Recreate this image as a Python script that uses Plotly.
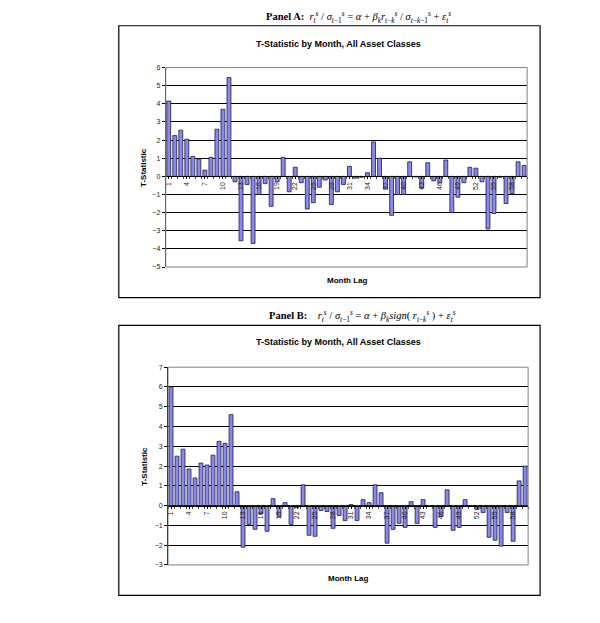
import plotly.graph_objects as go

lags = list(range(1, 61))
tick_lags = list(range(1, 61, 3))

panel_a = [4.15, 2.25, 2.55, 2.05, 1.1, 0.95, 0.35, 1.05, 2.6, 3.7,
           5.45, -0.3, -3.55, -0.45, -3.7, -1.0, -0.4, -1.65, -0.3, 1.05,
           -0.85, 0.5, -0.35, -1.8, -1.45, -0.6, -0.2, -1.55, -0.85, -0.45,
           0.55, -0.1, -0.05, 0.2, 1.9, 1.0, -0.7, -2.15, -1.0, -1.0,
           0.8, -0.03, -0.65, 0.75, -0.25, -0.35, 0.9, -2.0, -1.15, -0.35,
           0.5, 0.45, -0.3, -2.9, -2.05, -0.05, -1.5, -0.95, 0.8, 0.6]

panel_b = [6.0, 2.5, 2.85, 1.85, 1.4, 2.15, 2.05, 2.55, 3.25, 3.15,
           4.6, 0.7, -2.1, -0.95, -1.2, -0.4, -1.3, 0.35, -0.55, 0.15,
           -0.95, -0.1, 1.05, -1.5, -1.55, -0.25, -0.3, -1.15, -0.5, -0.75,
           0.05, -0.75, 0.3, 0.15, 1.05, 0.65, -1.9, -1.2, -0.9, -1.1,
           0.2, -0.9, 0.3, -0.03, -1.1, -0.55, 0.8, -1.25, -1.1, 0.3,
           -0.03, -0.2, -0.35, -1.6, -1.75, -2.05, -0.35, -1.8, 1.25, 2.0]

yrange_a = [-5, 6]
yrange_b = [-3, 7]

W, H = 600, 623


def px(x):
    return x / W


def py(y):
    return 1 - y / H


# plot areas (pixels)
A = dict(x0=165, x1=527, y0=64.3, y1=266)
B = dict(x0=167.3, x1=528, y0=367.3, y1=567.3)

zero_a = py(A["y0"] + (yrange_a[1] - 0) / (yrange_a[1] - yrange_a[0]) * (A["y1"] - A["y0"]))
zero_b = py(B["y0"] + (yrange_b[1] - 0) / (yrange_b[1] - yrange_b[0]) * (B["y1"] - B["y0"]))

bar_color = "#8a8ae6"
bar_line = "#1a1a4a"

fig = go.Figure()
fig.add_trace(go.Bar(x=lags, y=panel_a, xaxis="x", yaxis="y",
                     marker=dict(color=bar_color, line=dict(color=bar_line, width=0.8)),
                     showlegend=False))
fig.add_trace(go.Bar(x=lags, y=panel_b, xaxis="x2", yaxis="y2",
                     marker=dict(color=bar_color, line=dict(color=bar_line, width=0.8)),
                     showlegend=False))

tickfont = dict(family="Arial, Liberation Sans, sans-serif", size=7, color="#222")

xcommon = dict(type="linear", range=[0.5, 60.5], tickmode="array", tickvals=tick_lags,
               ticktext=[str(t) for t in tick_lags], tickangle=-90, tickfont=tickfont,
               showgrid=False, zeroline=False, showline=True, linecolor="black", linewidth=1,
               ticks="outside", ticklen=2, tickcolor="black",
               minor=dict(ticks="outside", tick0=0.5, dtick=1, ticklen=2, tickcolor="#444"),
               anchor="free", fixedrange=True)
ycommon = dict(dtick=1, showgrid=True, gridcolor="black", gridwidth=1, zeroline=False,
               showline=True, linecolor="black", linewidth=1, ticks="outside", ticklen=3,
               tickcolor="black", tickfont=tickfont, fixedrange=True)

fig.update_layout(
    width=W, height=H, margin=dict(l=0, r=0, t=0, b=0),
    paper_bgcolor="white", plot_bgcolor="white", bargap=0.35,
    xaxis=dict(domain=[px(A["x0"]), px(A["x1"])], position=zero_a, **xcommon),
    yaxis=dict(domain=[py(A["y1"]), py(A["y0"])], range=yrange_a, anchor="x", **ycommon),
    xaxis2=dict(domain=[px(B["x0"]), px(B["x1"])], position=zero_b, **xcommon),
    yaxis2=dict(domain=[py(B["y1"]), py(B["y0"])], range=yrange_b, anchor="x2", **ycommon),
)

shapes = []
# outer chart boxes
for (x0, y0, x1, y1) in [(118, 22, 540, 297), (118, 325, 540, 598)]:
    shapes.append(dict(type="rect", xref="paper", yref="paper", x0=px(x0), x1=px(x1),
                       y0=py(y1), y1=py(y0), line=dict(color="black", width=1.2)))
# plot area borders
for P in (A, B):
    shapes.append(dict(type="rect", xref="paper", yref="paper", x0=px(P["x0"]), x1=px(P["x1"]),
                       y0=py(P["y1"]), y1=py(P["y0"]), line=dict(color="#808080", width=1)))
fig.update_layout(shapes=shapes)

sans_b = dict(family="Arial, Liberation Sans, sans-serif", size=9, color="black")
serif = dict(family="Liberation Serif, Times New Roman, serif", size=10.5, color="black")

eq_a = ("<b>Panel A:</b>  <i>r</i><sub><i>t</i></sub><sup><i>s</i></sup> / "
        "<i>σ</i><sub><i>t</i>−1</sub><sup><i>s</i></sup> = <i>α</i> + "
        "<i>β</i><sub><i>k</i></sub><i>r</i><sub><i>t</i>−<i>k</i></sub><sup><i>s</i></sup> / "
        "<i>σ</i><sub><i>t</i>−<i>k</i>−1</sub><sup><i>s</i></sup> + "
        "<i>ε</i><sub><i>t</i></sub><sup><i>s</i></sup>")
eq_b = ("<b>Panel B:</b>    <i>r</i><sub><i>t</i></sub><sup><i>s</i></sup> / "
        "<i>σ</i><sub><i>t</i>−1</sub><sup><i>s</i></sup> = <i>α</i> + "
        "<i>β</i><sub><i>k</i></sub><i>sign</i>( <i>r</i><sub><i>t</i>−<i>k</i></sub><sup><i>s</i></sup> ) + "
        "<i>ε</i><sub><i>t</i></sub><sup><i>s</i></sup>")

ann = [
    dict(text=eq_a, x=px(358), y=py(13), font=serif),
    dict(text=eq_b, x=px(362), y=py(316), font=serif),
    dict(text="<b>T-Statistic by Month, All Asset Classes</b>", x=px(338), y=py(40), font=sans_b),
    dict(text="<b>T-Statistic by Month, All Asset Classes</b>", x=px(338), y=py(342), font=sans_b),
    dict(text="<b>Month Lag</b>", x=px(347), y=py(280), font=dict(sans_b, size=8)),
    dict(text="<b>Month Lag</b>", x=px(348), y=py(581), font=dict(sans_b, size=8)),
    dict(text="<b>T-Statistic</b>", x=px(143), y=py((A["y0"] + A["y1"]) / 2), textangle=-90,
         font=dict(sans_b, size=8)),
    dict(text="<b>T-Statistic</b>", x=px(143), y=py((B["y0"] + B["y1"]) / 2), textangle=-90,
         font=dict(sans_b, size=8)),
]
for a in ann:
    a.update(xref="paper", yref="paper", showarrow=False, xanchor="center", yanchor="middle")
fig.update_layout(annotations=ann)

fig.write_html("out.html", config={"displayModeBar": False},
               post_script="document.body.style.margin='0';")
